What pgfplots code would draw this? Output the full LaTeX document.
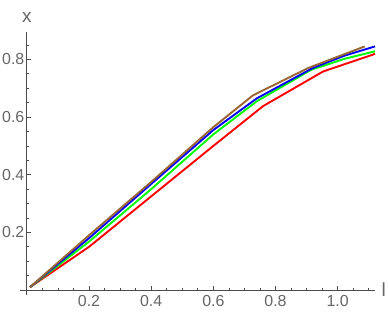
\documentclass[border=0pt]{standalone}
\usepackage{pgfplots}
\pgfplotsset{compat=1.18}
\usepackage{fontspec}
\setmainfont{Liberation Sans}
\definecolor{axgray}{gray}{0.3}
\definecolor{lblgray}{gray}{0.4}
\definecolor{mbrown}{rgb}{0.6,0.4,0.2}
\begin{document}
\begin{tikzpicture}[x=1bp,y=1bp]
\path[use as bounding box] (0,0) rectangle (388,319);
\begin{axis}[
  at={(20bp,24bp)}, anchor=south west,
  scale only axis, width=355bp, height=263.3bp,
  xmin=-0.022, xmax=1.12, ymin=-0.017, ymax=0.896,
  axis lines=middle, clip=false,
  axis line style={axgray, line width=0.9bp, -},
  xtick={0.2,0.4,0.6,0.8,1.0}, ytick={0.2,0.4,0.6,0.8},
  minor xtick={0.05,0.1,0.15,0.25,0.3,0.35,0.45,0.5,0.55,0.65,0.7,0.75,0.85,0.9,0.95,1.05,1.1},
  minor ytick={0.05,0.1,0.15,0.25,0.3,0.35,0.45,0.5,0.55,0.65,0.7,0.75,0.85},
  tick align=inside,
  major tick length=4bp, minor tick length=2.5bp,
  every tick/.style={axgray, line width=0.7bp},
  /pgf/number format/assume math mode=true,
  /pgf/number format/fixed, /pgf/number format/fixed zerofill, /pgf/number format/precision=1,
  xticklabel style={font=\fontsize{16}{16}\selectfont, text=lblgray, yshift=-2bp},
  yticklabel style={font=\fontsize{16}{16}\selectfont, text=lblgray, xshift=1bp},
  xlabel={l}, ylabel={x},
  every axis x label/.style={at={(axis cs:1.12,0)}, anchor=west, xshift=3bp, font=\fontsize{19}{19}\selectfont, text=lblgray},
  every axis y label/.style={at={(axis cs:0,0.896)}, anchor=south, yshift=6bp, font=\fontsize{19}{19}\selectfont, text=lblgray},
]
\addplot[red, line width=1.9bp] coordinates {(0.01,0.01)(0.2,0.15)(0.4,0.325)(0.6,0.5)(0.76,0.638)(0.953,0.758)(1.12,0.819)};
\addplot[green, line width=1.9bp] coordinates {(0.01,0.01)(0.2,0.168)(0.4,0.35)(0.6,0.54)(0.74,0.655)(0.915,0.764)(1.022,0.802)(1.12,0.828)};
\addplot[blue, line width=1.9bp] coordinates {(0.01,0.01)(0.2,0.18)(0.4,0.368)(0.6,0.555)(0.74,0.665)(0.92,0.77)(1.022,0.813)(1.12,0.845)};
\addplot[mbrown, line width=1.9bp] coordinates {(0.01,0.01)(0.2,0.19)(0.4,0.375)(0.6,0.565)(0.727,0.675)(0.905,0.77)(1.087,0.845)};
\end{axis}
\end{tikzpicture}
\end{document}
